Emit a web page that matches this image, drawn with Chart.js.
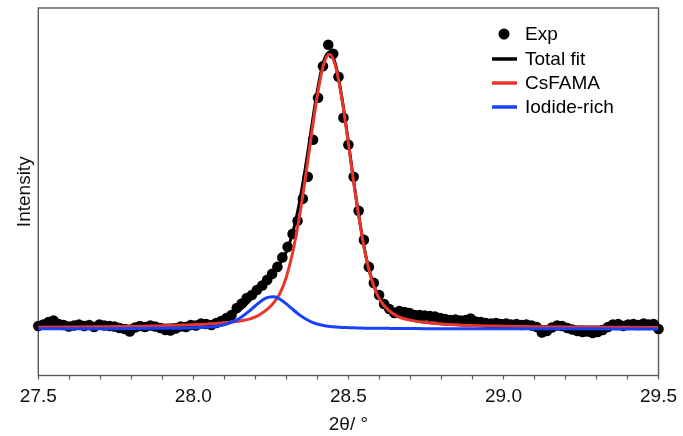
<!DOCTYPE html>
<html><head><meta charset="utf-8">
<script src="https://cdn.jsdelivr.net/npm/chart.js@4/dist/chart.umd.min.js"></script>
<style>html,body{margin:0;padding:0;background:#fff;overflow:hidden;}canvas{display:block;}</style>
</head><body>
<canvas id="c" width="683" height="436"></canvas>
<script>
// ---- data (2θ in degrees, intensity in arbitrary units) ----
const expX = [27.500,27.516,27.533,27.549,27.566,27.582,27.598,27.615,27.631,27.648,
27.664,27.680,27.697,27.713,27.730,27.746,27.762,27.779,27.795,27.812,
27.828,27.844,27.861,27.877,27.894,27.910,27.926,27.943,27.959,27.976,
27.992,28.008,28.025,28.041,28.058,28.074,28.090,28.107,28.123,28.140,
28.156,28.172,28.189,28.205,28.222,28.238,28.254,28.271,28.287,28.304,
28.320,28.336,28.353,28.369,28.386,28.402,28.418,28.435,28.451,28.468,
28.484,28.500,28.517,28.533,28.550,28.566,28.582,28.599,28.615,28.632,
28.648,28.664,28.681,28.697,28.714,28.730,28.746,28.763,28.779,28.796,
28.812,28.828,28.845,28.861,28.878,28.894,28.910,28.927,28.943,28.960,
28.976,28.992,29.009,29.025,29.042,29.058,29.074,29.091,29.107,29.124,
29.140,29.156,29.173,29.189,29.206,29.222,29.238,29.255,29.271,29.288,
29.304,29.320,29.337,29.353,29.370,29.386,29.402,29.419,29.435,29.452,
29.468,29.484,29.500];
const expY = [30,45,70,85,50,40,25,35,45,30,
40,20,45,35,30,25,10,0,-25,15,
30,20,35,25,10,-10,-15,5,25,20,
40,35,55,50,40,60,80,110,
140,210,255,310,340,390,435,490,550,620,
715,820,950,1080,1300,1520,1890,2310,2625,2840,
2750,2520,2110,1840,1520,1180,890,620,460,340,
250,200,160,180,170,160,140,140,
135,130,125,110,100,90,95,85,90,105,
75,70,60,55,60,50,55,45,50,40,
45,35,20,-35,-20,15,35,30,10,-5,
-20,-30,-25,-40,-30,-10,20,45,50,30,
45,50,40,55,45,50,0];

const fitX = [27.50,27.60,27.70,27.80,27.90,27.95,28.00,28.04,28.08,28.11,
28.14,28.16,28.18,28.20,28.22,28.24,28.26,28.28,28.30,28.32,
28.34,28.36,28.38,28.40,28.42,28.44,28.46,28.48,28.50,28.52,
28.54,28.56,28.58,28.60,28.63,28.66,28.70,28.75,28.80,28.90,
29.00,29.10,29.20,29.30,29.40,29.50];
const totalFitY = [18,21,24,29,37,44,54,65,86,117,
166,215,277,352,437,516,586,656,771,958,
1230,1585,1990,2384,2675,2770,2625,2292,1865,1411,
1009,678,452,307,191,128,92,67,53,37,
29,24,21,19,17,15];
const csfamaY = [17,19,21,25,31,36,42,48,56,65,
75,85,98,120,155,200,265,360,521,761,
1084,1481,1918,2335,2641,2745,2606,2277,1852,1400,
1000,670,445,300,185,123,88,64,50,35,
28,23,20,18,17,15];
const iodideY = [1,2,3,4,6,8,12,17,30,52,
91,130,179,232,282,316,321,296,250,197,
146,104,72,49,34,25,19,15,13,11,
9,8,7,7,6,5,4,3,3,2,
1,1,1,1,0,0];

const xTickLabels = ['27.5','28.0','28.5','29.0','29.5'];
const seriesNames = ['Exp','Total fit','CsFAMA','Iodide-rich'];
const xTitle = '2θ/ °';
const yTitle = 'Intensity';

// ---- styling ----
const FONT = '"Liberation Sans", Arial, Helvetica, sans-serif';
const RED = '#E8362B';
const BLUE = '#1742FF';
const AXIS = '#5a5a5a';

const pts = (xs, ys) => xs.map((x, i) => ({x: x, y: ys[i]}));

const framePlugin = {
  id: 'frame',
  beforeDatasetsDraw(chart) {
    const a = chart.chartArea, ctx = chart.ctx;
    ctx.save();
    ctx.strokeStyle = AXIS;
    ctx.lineWidth = 1.4;
    ctx.strokeRect(a.left, a.top, a.right - a.left, a.bottom - a.top);
    ctx.restore();
  }
};

const legendPlugin = {
  id: 'insideLegend',
  afterDraw(chart) {
    const ctx = chart.ctx;
    ctx.save();
    ctx.font = '19px ' + FONT;
    ctx.textBaseline = 'middle';
    const ys = [34, 59, 83, 107];
    const styles = [null, '#000', RED, BLUE];
    seriesNames.forEach((name, i) => {
      const y = ys[i];
      if (i === 0) {
        ctx.fillStyle = '#000';
        ctx.beginPath();
        ctx.arc(504, y, 5.5, 0, Math.PI * 2);
        ctx.fill();
      } else {
        ctx.strokeStyle = styles[i];
        ctx.lineWidth = 3.5;
        ctx.beginPath();
        ctx.moveTo(492, y);
        ctx.lineTo(517, y);
        ctx.stroke();
      }
      ctx.fillStyle = '#000';
      ctx.fillText(name, 525, y + 1);
    });
    ctx.restore();
  }
};

new Chart(document.getElementById('c'), {
  type: 'scatter',
  data: {
    datasets: [
      {label: seriesNames[0], data: pts(expX, expY), order: 4,
       pointRadius: 5.3, pointBackgroundColor: '#000', pointBorderWidth: 0,
       showLine: false, clip: false},
      {label: seriesNames[1], data: pts(fitX, totalFitY), order: 3,
       showLine: true, pointRadius: 0, borderColor: '#000', borderWidth: 3,
       cubicInterpolationMode: 'monotone'},
      {label: seriesNames[2], data: pts(fitX, csfamaY), order: 2,
       showLine: true, pointRadius: 0, borderColor: RED, borderWidth: 3,
       cubicInterpolationMode: 'monotone'},
      {label: seriesNames[3], data: pts(fitX, iodideY), order: 1,
       showLine: true, pointRadius: 0, borderColor: BLUE, borderWidth: 3,
       cubicInterpolationMode: 'monotone'}
    ]
  },
  options: {
    responsive: false,
    animation: false,
    devicePixelRatio: 1,
    layout: {padding: {top: 8, right: 21, left: 0, bottom: 0}},
    plugins: {legend: {display: false}, tooltip: {enabled: false}},
    scales: {
      x: {
        type: 'linear', min: 27.5, max: 29.5,
        border: {display: false},
        grid: {display: true, drawOnChartArea: false, drawTicks: true,
               tickLength: 4, tickColor: AXIS, tickWidth: 1.2},
        ticks: {
          stepSize: 0.1, autoSkip: false, maxRotation: 0, minRotation: 0,
          padding: 6, color: '#111', font: {family: FONT, size: 19},
          callback: (v) => {
            const m = xTickLabels.find(l => Math.abs(parseFloat(l) - v) < 1e-6);
            return m === undefined ? '' : m;
          }
        },
        title: {display: true, text: xTitle, color: '#111',
                font: {family: FONT, size: 19}, padding: {top: 0, bottom: 0}},
        afterFit: (s) => { s.height = 60.5; }
      },
      y: {
        min: -465, max: 3207,
        border: {display: false},
        grid: {display: false},
        ticks: {display: false},
        title: {display: true, text: yTitle, color: '#111',
                font: {family: FONT, size: 19}, padding: {top: 13.5, bottom: 0}},
        afterFit: (s) => { s.width = 38.3; }
      }
    }
  },
  plugins: [framePlugin, legendPlugin]
});
</script>
</body></html>
